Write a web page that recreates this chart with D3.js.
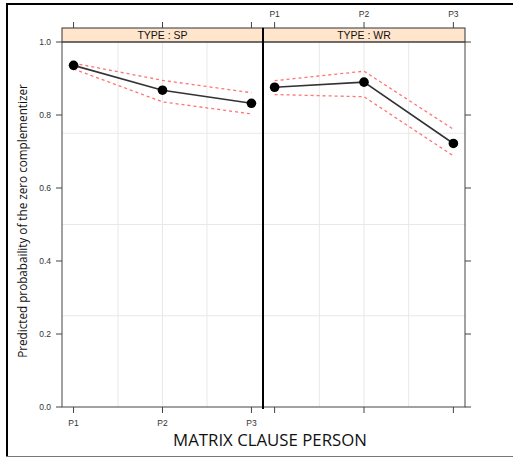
<!DOCTYPE html>
<html><head><meta charset="utf-8">
<script src="https://cdn.jsdelivr.net/npm/d3@7"></script>
<style>
html,body{margin:0;padding:0;background:#fff;}
svg{display:block;}
</style></head>
<body>
<script>
const categories = ["P1","P2","P3"];
const panels = ["TYPE : SP","TYPE : WR"];
const fitSP   = [0.936, 0.868, 0.832];
const upperSP = [0.942, 0.895, 0.861];
const lowerSP = [0.926, 0.836, 0.803];
const fitWR   = [0.876, 0.890, 0.722];
const upperWR = [0.894, 0.920, 0.761];
const lowerWR = [0.856, 0.850, 0.688];
const yTicks = [0, 0.2, 0.4, 0.6, 0.8, 1.0];
const yGrid = [0.25, 0.5, 0.75];
const xGrid = [1.5, 2, 2.5];

const series = [
  {fit: fitSP, upper: upperSP, lower: lowerSP},
  {fit: fitWR, upper: upperWR, lower: lowerWR}
];

const W = 513, H = 458;
const svg = d3.select("body").append("svg").attr("width", W).attr("height", H);

// outer frame
svg.append("line").attr("x1",7).attr("x2",7).attr("y1",3).attr("y2",457).attr("stroke","#000").attr("stroke-width",2);
svg.append("line").attr("x1",6).attr("x2",513).attr("y1",4).attr("y2",4).attr("stroke","#000").attr("stroke-width",2);
svg.append("line").attr("x1",6).attr("x2",513).attr("y1",456.5).attr("y2",456.5).attr("stroke","#777").attr("stroke-width",1);

const pTop = 42, pBottom = 407, stripTop = 28;
const panelX = [[62,263],[263,465]];
const y = d3.scaleLinear().domain([0,1]).range([pBottom, pTop]);

panelX.forEach((px, pi) => {
  const x = d3.scaleLinear().domain([0.87, 3.13]).range(px);
  const g = svg.append("g");
  g.selectAll(".vg").data(xGrid).join("line")
    .attr("x1", d => x(d)).attr("x2", d => x(d)).attr("y1", pTop).attr("y2", pBottom)
    .attr("stroke", "#e8e8e8").attr("stroke-width", 1);
  g.selectAll(".hg").data(yGrid).join("line")
    .attr("x1", px[0]).attr("x2", px[1]).attr("y1", d => y(d)).attr("y2", d => y(d))
    .attr("stroke", "#e8e8e8").attr("stroke-width", 1);

  const s = series[pi];
  const idx = categories.map((c,i)=>i);
  const line = arr => d3.line().x(i => x(i+1)).y(i => y(arr[i]))(idx);
  g.append("path").attr("d", line(s.upper)).attr("fill","none")
    .attr("stroke","#ff5a5a").attr("stroke-width",1.3).attr("stroke-dasharray","3,3").attr("opacity",0.85);
  g.append("path").attr("d", line(s.lower)).attr("fill","none")
    .attr("stroke","#ff5a5a").attr("stroke-width",1.3).attr("stroke-dasharray","3,3").attr("opacity",0.85);
  g.append("path").attr("d", line(s.fit)).attr("fill","none")
    .attr("stroke","#333").attr("stroke-width",1.6);
  g.selectAll("circle").data(idx).join("circle")
    .attr("cx", i => x(i+1)).attr("cy", i => y(s.fit[i])).attr("r", 4.8).attr("fill","#000");

  g.append("rect").attr("x", px[0]).attr("y", stripTop).attr("width", px[1]-px[0]).attr("height", pTop-stripTop)
    .attr("fill","#ffe5cc").attr("stroke","#333").attr("stroke-width",1);
  g.append("text").attr("x", (px[0]+px[1])/2).attr("y", (stripTop+pTop)/2+4)
    .attr("text-anchor","middle").attr("font-family","Liberation Sans, Arial, sans-serif")
    .attr("font-size",10.5).attr("fill","#111").text(panels[pi]);

  g.append("rect").attr("x", px[0]).attr("y", pTop).attr("width", px[1]-px[0]).attr("height", pBottom-pTop)
    .attr("fill","none").attr("stroke","#444").attr("stroke-width",1);

  const tickSel = g.selectAll(".xt").data(categories).join("g");
  tickSel.append("line").attr("x1",(d,i)=>x(i+1)).attr("x2",(d,i)=>x(i+1))
    .attr("y1", pBottom).attr("y2", pBottom+6).attr("stroke","#444");
  tickSel.append("line").attr("x1",(d,i)=>x(i+1)).attr("x2",(d,i)=>x(i+1))
    .attr("y1", stripTop).attr("y2", stripTop-6).attr("stroke","#444");
  tickSel.append("text")
    .attr("x",(d,i)=>x(i+1)).attr("y", pi===0 ? 426 : 17)
    .attr("text-anchor","middle").attr("font-family","Liberation Sans, Arial, sans-serif")
    .attr("font-size",8.5).attr("fill","#333").text(d=>d);
});

const ya = svg.append("g");
ya.selectAll("line").data(yTicks).join("line")
  .attr("x1",56).attr("x2",62).attr("y1",d=>y(d)).attr("y2",d=>y(d)).attr("stroke","#444");
ya.selectAll("text").data(yTicks).join("text")
  .attr("x",51).attr("y",d=>y(d)+3).attr("text-anchor","end")
  .attr("font-family","Liberation Sans, Arial, sans-serif").attr("font-size",8.5).attr("fill","#333")
  .text(d=>d3.format(".1f")(d));
svg.append("g").selectAll("line").data(yTicks).join("line")
  .attr("x1",465).attr("x2",471).attr("y1",d=>y(d)).attr("y2",d=>y(d)).attr("stroke","#444");

svg.append("line").attr("x1",263).attr("x2",263).attr("y1",stripTop).attr("y2",pBottom+2)
  .attr("stroke","#000").attr("stroke-width",2);

svg.append("text").attr("x",270).attr("y",446).attr("text-anchor","middle")
  .attr("font-family","Open Sans, sans-serif").attr("font-size",16.8).attr("fill","#111")
  .text("MATRIX CLAUSE PERSON");
svg.append("text").attr("transform","translate(27,221) rotate(-90)")
  .attr("text-anchor","middle").attr("font-family","Open Sans, sans-serif").attr("font-size",11.7).attr("fill","#111")
  .text("Predicted probabaility of the zero complementizer");
</script>
</body></html>
